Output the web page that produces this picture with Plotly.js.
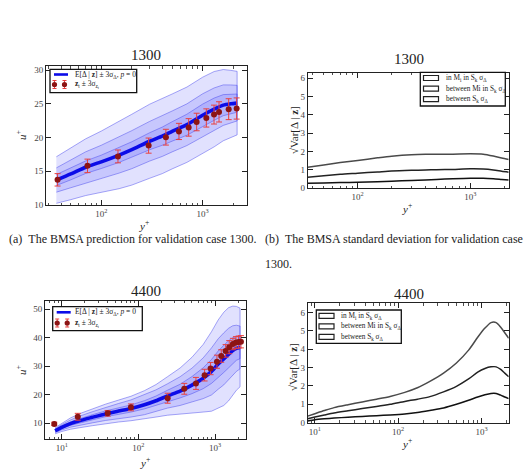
<!DOCTYPE html>
<html><head><meta charset="utf-8">
<script src="https://cdn.plot.ly/plotly-3.0.1.min.js"></script>
<style>html,body{margin:0;padding:0;background:#fff}#fig{width:524px;height:476px}</style>
</head><body><div id="fig"></div><script>
// ---- case 1300: model mean and standard-deviation components on y+ grid
const yPlus1300 = [36, 50, 70, 100, 150, 200, 300, 400, 500, 700, 1000, 1300, 1600, 1900, 2190];
const mean1300  = [13.7, 14.6, 15.6, 16.4, 17.4, 18.2, 19.45, 20.2, 20.9, 21.9, 23.3, 24.2, 24.8, 25.0, 25.1];
const sdIn1300  = [0.27, 0.29, 0.31, 0.33, 0.36, 0.39, 0.42, 0.45, 0.48, 0.52, 0.55, 0.55, 0.52, 0.48, 0.45];
const sdMi1300  = [0.60, 0.68, 0.76, 0.82, 0.89, 0.94, 0.98, 1.00, 1.01, 1.03, 1.06, 1.05, 1.00, 0.93, 0.88];
const sdSk1300  = [1.15, 1.27, 1.40, 1.52, 1.66, 1.75, 1.83, 1.85, 1.85, 1.86, 1.88, 1.86, 1.76, 1.65, 1.57];
// case 1300: validation data z_t with 3-sigma bars
const dnsY1300   = [37, 73, 146, 293, 434, 584, 728, 873, 1088, 1296, 1452, 1808, 2167];
const dnsU1300   = [13.73, 15.8, 17.2, 18.8, 20.05, 20.9, 21.5, 22.3, 22.9, 23.4, 23.8, 24.2, 24.3];
const dnsErr1300 = [0.92, 1.0, 0.95, 1.12, 1.17, 1.2, 1.3, 1.3, 1.35, 1.4, 1.5, 1.55, 1.57];

// ---- case 4400
const yPlus4400 = [8.2, 10, 13, 17, 25, 37, 55, 80, 120, 170, 240, 350, 500, 700, 900, 1100, 1300, 1500, 1700, 1900, 2120];
const mean4400  = [7.4, 8.6, 9.9, 10.9, 12.1, 13.3, 14.3, 15.2, 16.5, 17.9, 19.6, 21.3, 23.4, 25.8, 28.2, 30.8, 32.6, 34.2, 35.5, 36.3, 36.6];
const sdIn4400  = [0.09, 0.16, 0.21, 0.25, 0.30, 0.34, 0.38, 0.42, 0.48, 0.56, 0.67, 0.80, 1.00, 1.22, 1.40, 1.52, 1.59, 1.59, 1.50, 1.40, 1.31];
const sdMi4400  = [0.22, 0.31, 0.42, 0.53, 0.65, 0.77, 0.88, 1.00, 1.16, 1.28, 1.42, 1.68, 1.98, 2.38, 2.75, 2.95, 3.04, 3.04, 2.90, 2.70, 2.50];
const sdSk4400  = [0.36, 0.49, 0.66, 0.82, 0.98, 1.13, 1.28, 1.43, 1.65, 1.90, 2.25, 2.70, 3.25, 3.95, 4.65, 5.15, 5.45, 5.45, 5.20, 4.90, 4.60];
const dnsY4400   = [8.0, 16.2, 39.8, 80, 241, 397, 564, 731, 875, 1059, 1205, 1375, 1532, 1711, 1874, 2032, 2178];
const dnsU4400   = [9.8, 12.3, 13.5, 15.6, 18.8, 22.1, 24.0, 26.9, 29.2, 31.6, 33.6, 35.4, 36.7, 37.8, 38.3, 38.5, 38.6];
const dnsErr4400 = [0.6, 1.2, 1.0, 1.2, 1.75, 1.9, 2.1, 2.05, 2.15, 2.3, 2.2, 2.2, 2.3, 2.0, 2.1, 2.1, 2.15];

const SERIF = 'Liberation Serif, Times New Roman, serif';
const W = 524, H = 476;
const fx = x => x / W, fy = y => 1 - y / H;

// nested +-3 sigma envelopes around the mean, one polygon per component
function band(xs, mean, sd, xa, ya) {
  const up = mean.map((m, i) => m + 3 * sd[i]);
  const lo = mean.map((m, i) => m - 3 * sd[i]);
  return {
    x: xs.concat(xs.slice().reverse()), y: up.concat(lo.slice().reverse()),
    type: 'scatter', mode: 'lines', fill: 'toself',
    fillcolor: 'rgba(40,40,245,0.14)', line: {color: 'rgba(70,70,235,0.6)', width: 0.8},
    xaxis: xa, yaxis: ya, hoverinfo: 'skip', showlegend: false
  };
}
function meanLine(xs, ys, xa, ya) {
  return {x: xs, y: ys, type: 'scatter', mode: 'lines', line: {color: 'rgb(12,12,232)', width: 3.6, shape: 'spline', smoothing: 0.6},
          xaxis: xa, yaxis: ya, showlegend: false};
}
function dataPts(xs, ys, err, xa, ya) {
  return {x: xs, y: ys, type: 'scatter', mode: 'markers',
          marker: {color: '#8c1414', size: 6, line: {width: 0}},
          error_y: {type: 'data', array: err, color: '#e8403f', thickness: 1, width: 3},
          xaxis: xa, yaxis: ya, showlegend: false};
}
function sdLine(xs, ys, col, xa, ya) {
  return {x: xs, y: ys, type: 'scatter', mode: 'lines', line: {color: col, width: 1.5, shape: 'spline', smoothing: 0.7},
          xaxis: xa, yaxis: ya, showlegend: false};
}

const traces = [
  band(yPlus1300, mean1300, sdSk1300, 'x', 'y'),
  band(yPlus1300, mean1300, sdMi1300, 'x', 'y'),
  band(yPlus1300, mean1300, sdIn1300, 'x', 'y'),
  meanLine(yPlus1300, mean1300, 'x', 'y'),
  dataPts(dnsY1300, dnsU1300, dnsErr1300, 'x', 'y'),

  sdLine(yPlus1300, sdSk1300, '#4a4a4a', 'x2', 'y2'),
  sdLine(yPlus1300, sdMi1300, '#222', 'x2', 'y2'),
  sdLine(yPlus1300, sdIn1300, '#111', 'x2', 'y2'),

  band(yPlus4400, mean4400, sdSk4400, 'x3', 'y3'),
  band(yPlus4400, mean4400, sdMi4400, 'x3', 'y3'),
  band(yPlus4400, mean4400, sdIn4400, 'x3', 'y3'),
  meanLine(yPlus4400, mean4400, 'x3', 'y3'),
  dataPts(dnsY4400, dnsU4400, dnsErr4400, 'x3', 'y3'),

  sdLine(yPlus4400, sdSk4400, '#4a4a4a', 'x4', 'y4'),
  sdLine(yPlus4400, sdMi4400, '#222', 'x4', 'y4'),
  sdLine(yPlus4400, sdIn4400, '#111', 'x4', 'y4')
];

function minorVals(d0, d1) {
  const v = [];
  for (let d = d0; d <= d1; d++) for (let k = 2; k <= 9; k++) v.push(k * Math.pow(10, d));
  return v;
}
const tickFont = {family: SERIF, size: 9, color: '#444'};
function logX(px0, px1, r, anchor) {
  return {
    type: 'log', range: r, domain: [fx(px0), fx(px1)], anchor: anchor,
    tickvals: [10, 100, 1000], ticktext: ['10<sup>1</sup>', '10<sup>2</sup>', '10<sup>3</sup>'],
    ticks: 'inside', ticklen: 5, tickwidth: 1, tickcolor: '#222',
    minor: {tickvals: minorVals(0, 3), ticks: 'inside', ticklen: 2.5, tickwidth: 0.8, tickcolor: '#222', showgrid: false},
    showline: true, linecolor: '#222', linewidth: 1, mirror: 'allticks',
    showgrid: false, zeroline: false, tickfont: tickFont
  };
}
function linY(py0, py1, r, vals, anchor) {
  return {
    range: r, domain: [fy(py1), fy(py0)], anchor: anchor, tickvals: vals,
    ticks: 'inside', ticklen: 5, tickwidth: 1, tickcolor: '#222',
    showline: true, linecolor: '#222', linewidth: 1, mirror: 'allticks',
    showgrid: false, zeroline: false, tickfont: tickFont
  };
}

const annotations = [];
const shapes = [];
function text(x, y, t, size, opts) {
  annotations.push(Object.assign({xref: 'paper', yref: 'paper', x: fx(x), y: fy(y), text: t, showarrow: false,
    xanchor: 'center', yanchor: 'middle', font: {family: SERIF, size: size, color: '#222'}}, opts || {}));
}
function rect(x0, y0, x1, y1, lineCol, lw, fill) {
  shapes.push({type: 'rect', xref: 'paper', yref: 'paper', x0: fx(x0), x1: fx(x1), y0: fy(y1), y1: fy(y0),
    line: {color: lineCol, width: lw}, fillcolor: fill || 'rgba(0,0,0,0)'});
}
function seg(x0, y0, x1, y1, col, lw) {
  shapes.push({type: 'line', xref: 'paper', yref: 'paper', x0: fx(x0), x1: fx(x1), y0: fy(y0), y1: fy(y1),
    line: {color: col, width: lw}});
}
function errGlyph(x, y) {
  seg(x, y - 4, x, y + 4, '#e8403f', 1);
  seg(x - 2, y - 4, x + 2, y - 4, '#e8403f', 1);
  seg(x - 2, y + 4, x + 2, y + 4, '#e8403f', 1);
  shapes.push({type: 'circle', xref: 'paper', yref: 'paper', x0: fx(x - 2.6), x1: fx(x + 2.6), y0: fy(y + 2.6), y1: fy(y - 2.6),
    line: {width: 0}, fillcolor: '#8c1414'});
}
const meanLabel = 'E[Δ | <b>z</b>] ± 3σ<sub>Δ</sub>, <i>p</i> = 0';
const dataLabel = '<b>z</b><sub>t</sub> ± 3σ<sub>z<sub>t</sub></sub>';
function predLegend(x0, y0, x1, y1, r1, r2, tx) {
  rect(x0, y0, x1, y1, '#111', 1.3, 'white');
  seg(x0 + 4, r1, x0 + 18, r1, 'rgb(12,12,232)', 2.6);
  errGlyph(x0 + 4.5, r2); errGlyph(x0 + 14.5, r2);
  text(tx, r1, meanLabel, 7.5, {xanchor: 'left'});
  text(tx, r2, dataLabel, 7.5, {xanchor: 'left'});
}
const sdLabels = ['in M<sub>i</sub> in S<sub>k</sub> σ<sub>Δ</sub>', 'between Mi in S<sub>k</sub> σ<sub>Δ</sub>', 'between S<sub>k</sub> σ<sub>Δ</sub>'];
function sdLegend(x0, y0, x1, y1, rows, px0, tx) {
  rect(x0, y0, x1, y1, '#111', 1.3, 'white');
  rows.forEach((r, i) => {
    rect(px0, r - 2.5, px0 + 15, r + 2.5, '#222', 1.2, 'white');
    text(tx, r, sdLabels[i], 7.3, {xanchor: 'left'});
  });
}

// panel frames are the axes; legends, titles and captions are paper-level
predLegend(50, 69.3, 136.7, 92.7, 74.5, 84.5, 72.5);
predLegend(52.7, 306.7, 142.3, 330.7, 312.3, 323, 72.5);
sdLegend(420.3, 72.3, 505.3, 106, [78, 88.6, 99.2], 423.5, 443.5);
sdLegend(316.3, 310, 401.3, 343.3, [315.8, 326.3, 336.8], 319, 339.3);

text(146, 55, '1300', 15);
text(409, 59.3, '1300', 15);
text(146, 290.7, '4400', 15);
text(409, 294, '4400', 15);

const uLbl = '<i>u</i><sup>+</sup>', yLbl = '<i>y</i><sup>+</sup>';
text(21, 135, uLbl, 11, {textangle: -90});
text(21, 370, uLbl, 11, {textangle: -90});
text(294, 130, '√Var[Δ | <b>z</b>]', 11, {textangle: -90});
text(293, 367, '√Var[Δ | <b>z</b>]', 11, {textangle: -90});
text(144, 225, yLbl, 11);
text(407, 208, yLbl, 11);
text(145, 461.5, yLbl, 11);
text(407, 443, yLbl, 11);

const capFont = 12;
text(7, 239, '(a)&nbsp;&nbsp;The BMSA prediction for validation case 1300.', capFont, {xanchor: 'left'});
text(263, 239, '(b)&nbsp;&nbsp;The BMSA standard deviation for validation case', capFont, {xanchor: 'left'});
text(263, 264, '1300.', capFont, {xanchor: 'left'});

const layout = {
  width: W, height: H, margin: {l: 0, r: 0, t: 0, b: 0},
  paper_bgcolor: 'white', plot_bgcolor: 'white', showlegend: false,
  xaxis: logX(46, 247, [1.454, 3.438], 'y'),
  yaxis: linY(66, 205, [10, 30.6], [10, 15, 20, 25, 30], 'x'),
  xaxis2: logX(307.7, 508.7, [Math.log10(36), Math.log10(2190)], 'y2'),
  yaxis2: linY(72.7, 188.3, [0, 6.3], [0, 1, 2, 3, 4, 5, 6], 'x2'),
  xaxis3: logX(45, 246, [0.782, 3.404], 'y3'),
  yaxis3: linY(300.7, 439, [4.5, 53], [10, 20, 30, 40, 50], 'x3'),
  xaxis4: logX(307.7, 508.7, [Math.log10(8.2), Math.log10(2120)], 'y4'),
  yaxis4: linY(303.3, 422.7, [0, 6.5], [0, 1, 2, 3, 4, 5, 6], 'x4'),
  annotations: annotations, shapes: shapes
};
Plotly.newPlot('fig', traces, layout, {displayModeBar: false, staticPlot: true});
</script></body></html>
